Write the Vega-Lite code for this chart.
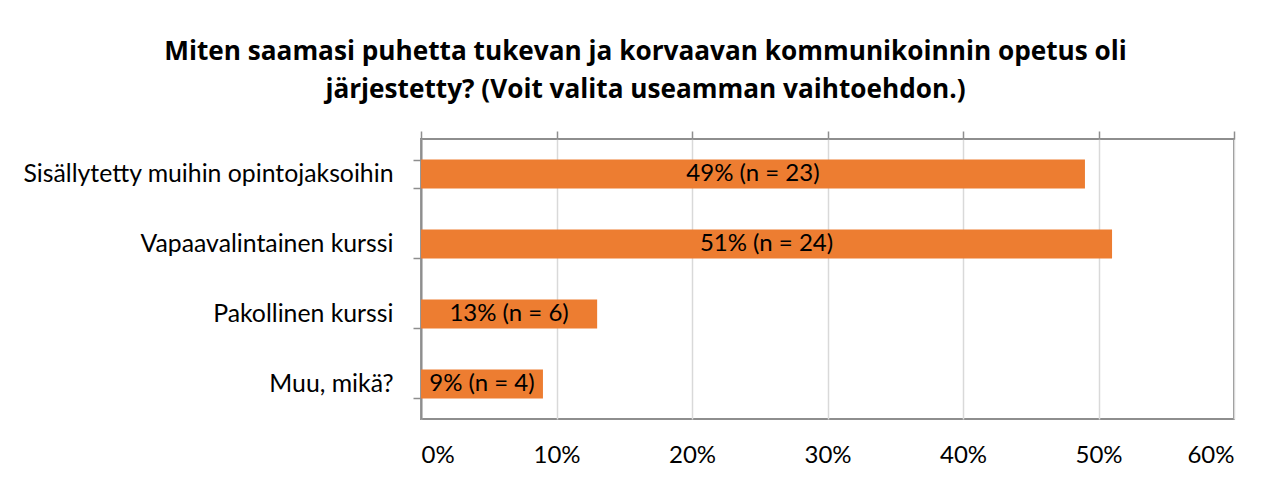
{
  "$schema": "https://vega.github.io/schema/vega-lite/v6.json",
  "autosize": "none",
  "width": 813,
  "height": 280,
  "padding": {"left": 421, "top": 139, "right": 51, "bottom": 63},
  "background": "white",
  "title": {
    "text": ["Miten saamasi puhetta tukevan ja korvaavan kommunikoinnin opetus oli", "järjestetty? (Voit valita useamman vaihtoehdon.)"],
    "font": "Open Sans",
    "fontSize": 26.2,
    "fontWeight": "bold",
    "color": "#000000",
    "anchor": "middle",
    "frame": "group",
    "dx": -182,
    "lineHeight": 38,
    "baseline": "bottom",
    "offset": -4
  },
  "data": {
    "values": [
      {"category": "Sisällytetty muihin opintojaksoihin", "pct": 49, "label": "49% (n = 23)"},
      {"category": "Vapaavalintainen kurssi", "pct": 51, "label": "51% (n = 24)"},
      {"category": "Pakollinen kurssi", "pct": 13, "label": "13% (n = 6)"},
      {"category": "Muu, mikä?", "pct": 9, "label": "9% (n = 4)"}
    ]
  },
  "encoding": {
    "y": {
      "field": "category",
      "type": "nominal",
      "sort": null,
      "title": null,
      "scale": {"paddingInner": 0.586, "paddingOuter": 0.293},
      "axis": {
        "domain": true,
        "domainColor": "#8e8e8e",
        "domainWidth": 2,
        "ticks": true,
        "tickBand": "extent",
        "tickSize": 8,
        "tickColor": "#8e8e8e",
        "tickWidth": 1.5,
        "labelFont": "Lato",
        "labelFontSize": 24.8,
        "labelColor": "#000000",
        "labelPadding": 20,
        "labelLimit": 420,
        "grid": false
      }
    }
  },
  "layer": [
    {
      "mark": {"type": "bar", "color": "#ED7D31"},
      "encoding": {
        "x": {
          "field": "pct",
          "type": "quantitative",
          "title": null,
          "scale": {"domain": [0, 60], "nice": false},
          "axis": {
            "orient": "bottom",
            "values": [0, 10, 20, 30, 40, 50, 60],
            "format": "d",
            "labelExpr": "datum.value + '%'",
            "domain": false,
            "ticks": false,
            "grid": true,
            "gridColor": "#D9D9D9",
            "gridWidth": 1.5,
            "labelFont": "Lato",
            "labelFontSize": 24,
            "labelColor": "#000000",
            "labelPadding": 24
          }
        }
      }
    },
    {
      "transform": [{"calculate": "datum.pct / 2", "as": "mid"}],
      "mark": {"type": "text", "font": "Lato", "fontSize": 24, "color": "#000000", "align": "center", "baseline": "middle"},
      "encoding": {
        "x": {
          "field": "mid",
          "type": "quantitative",
          "axis": {
            "orient": "top",
            "values": [0, 10, 20, 30, 40, 50, 60],
            "labels": false,
            "domain": false,
            "ticks": true,
            "tickSize": 8,
            "tickColor": "#8e8e8e",
            "tickWidth": 1.5,
            "grid": false,
            "title": null
          }
        },
        "text": {"field": "label"}
      }
    }
  ],
  "resolve": {"axis": {"x": "independent"}},
  "config": {
    "view": {"stroke": "#8e8e8e", "strokeWidth": 2}
  }
}
